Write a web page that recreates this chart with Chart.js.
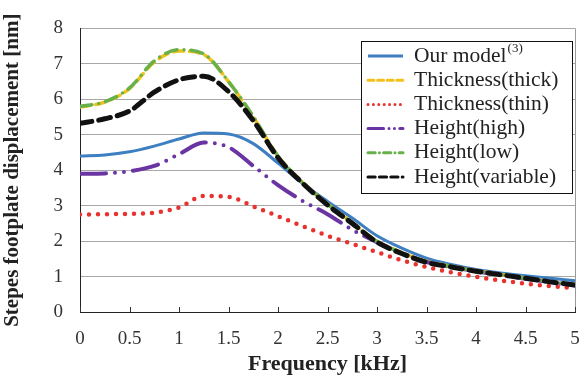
<!DOCTYPE html>
<html>
<head>
<meta charset="utf-8">
<script src="https://cdn.jsdelivr.net/npm/chart.js@4"></script>
<style>
  html, body { margin: 0; padding: 0; background: #fff; }
</style>
</head>
<body>
<canvas id="grafico" width="580" height="380"></canvas>
<script>
// frequencia em kHz
const frequencias = [0, 0.25, 0.5, 0.75, 1, 1.25, 1.5, 1.75, 2, 2.25, 2.5, 2.75, 3, 3.25, 3.5, 3.75, 4, 4.25, 4.5, 4.75, 5];

const ourModel = [4.40, 4.43, 4.52, 4.68, 4.88, 5.05, 5.02, 4.75, 4.20, 3.62, 3.12, 2.65, 2.15, 1.80, 1.52, 1.34, 1.20, 1.10, 1.02, 0.95, 0.88];
const thick    = [5.78, 5.92, 6.30, 7.05, 7.36, 7.26, 6.50, 5.50, 4.40, 3.65, 3.05, 2.52, 2.00, 1.68, 1.43, 1.29, 1.17, 1.06, 0.96, 0.86, 0.77];
const thin     = [2.75, 2.76, 2.77, 2.80, 2.95, 3.27, 3.25, 2.98, 2.70, 2.42, 2.15, 1.92, 1.69, 1.46, 1.27, 1.12, 0.99, 0.89, 0.80, 0.73, 0.67];
const high     = [3.90, 3.91, 3.97, 4.12, 4.45, 4.78, 4.65, 4.12, 3.58, 3.13, 2.76, 2.32, 1.97, 1.66, 1.41, 1.27, 1.15, 1.04, 0.94, 0.84, 0.75];
const low      = [5.80, 5.93, 6.32, 7.08, 7.40, 7.28, 6.50, 5.52, 4.40, 3.64, 3.04, 2.51, 1.99, 1.67, 1.42, 1.28, 1.16, 1.05, 0.95, 0.85, 0.76];
const variable = [5.32, 5.45, 5.67, 6.20, 6.55, 6.65, 6.22, 5.40, 4.35, 3.63, 3.02, 2.50, 1.97, 1.65, 1.40, 1.27, 1.15, 1.05, 0.95, 0.85, 0.76];

const nomesSeries = ["Our model", "Thickness(thick)", "Thickness(thin)", "Height(high)", "Height(low)", "Height(variable)"];

const fonte = "'Liberation Serif', 'Times New Roman', serif";

function pontos(valores) {
  return frequencias.map((f, i) => ({ x: f, y: valores[i] }));
}

function serie(nome, valores, cor, largura, tracejado, ordem) {
  return {
    label: nome,
    data: pontos(valores),
    borderColor: cor,
    backgroundColor: cor,
    borderWidth: largura,
    borderDash: tracejado,
    borderCapStyle: tracejado.length ? "round" : "butt",
    pointRadius: 0,
    cubicInterpolationMode: "monotone",
    fill: false,
    order: ordem
  };
}

// moldura direita + marcas do eixo x para dentro
const moldura = {
  id: "moldura",
  beforeDatasetsDraw(chart) {
    const { ctx, chartArea: a, scales: { x } } = chart;
    ctx.save();
    ctx.lineWidth = 1;
    ctx.strokeStyle = "#9a9a9a";
    ctx.beginPath();
    ctx.moveTo(Math.round(a.right) + 0.5, a.top);
    ctx.lineTo(Math.round(a.right) + 0.5, a.bottom);
    ctx.stroke();
    ctx.strokeStyle = "#333";
    x.ticks.forEach(t => {
      const px = Math.round(x.getPixelForValue(t.value)) + 0.5;
      ctx.beginPath();
      ctx.moveTo(px, a.bottom);
      ctx.lineTo(px, a.bottom - 5);
      ctx.stroke();
    });
    ctx.restore();
  }
};

// legenda desenhada dentro da area do grafico
const legendaInterna = {
  id: "legendaInterna",
  afterDraw(chart) {
    const ctx = chart.ctx;
    const bx = 361, by = 41, bw = 211, bh = 152;
    const passo = 24.2;
    ctx.save();
    ctx.fillStyle = "#fff";
    ctx.fillRect(bx, by, bw, bh);
    ctx.strokeStyle = "#111";
    ctx.lineWidth = 1;
    ctx.strokeRect(bx + 0.5, by + 0.5, bw, bh);

    chart.data.datasets.forEach((ds, i) => {
      const yy = by + 15 + i * passo;
      ctx.save();
      ctx.strokeStyle = ds.borderColor;
      ctx.lineWidth = Math.min(ds.borderWidth, 3);
      ctx.lineCap = ds.borderCapStyle;
      ctx.setLineDash(ds.borderDash.map(v => v * 0.6));
      ctx.beginPath();
      ctx.moveTo(368, yy);
      ctx.lineTo(403, yy);
      ctx.stroke();
      ctx.restore();

      ctx.fillStyle = "#222";
      ctx.font = "21.5px " + fonte;
      ctx.textBaseline = "middle";
      ctx.textAlign = "left";
      ctx.fillText(ds.label, 414, yy);
      if (i === 0) {
        const w = ctx.measureText(ds.label).width;
        ctx.font = "13px " + fonte;
        ctx.fillText("(3)", 414 + w + 1, yy - 7);
      }
    });
    ctx.restore();
  }
};

new Chart(document.getElementById("grafico").getContext("2d"), {
  type: "line",
  data: {
    datasets: [
      serie(nomesSeries[0], ourModel, "#3d7fc1", 3, [], 4),
      serie(nomesSeries[1], thick, "#f2c21b", 3.5, [10, 6], 3),
      serie(nomesSeries[2], thin, "#e8322e", 4.5, [0, 9], 5),
      serie(nomesSeries[3], high, "#6a35a3", 4, [26, 9, 0, 9, 0, 9], 2),
      serie(nomesSeries[4], low, "#68b14a", 3.5, [12, 7, 0, 7], 1),
      serie(nomesSeries[5], variable, "#111111", 5, [12, 7], 0)
    ]
  },
  options: {
    responsive: false,
    animation: false,
    layout: { padding: { top: 27, right: 4, left: 0, bottom: 0 } },
    plugins: {
      legend: { display: false },
      tooltip: { enabled: false }
    },
    scales: {
      x: {
        type: "linear",
        min: 0,
        max: 5,
        afterFit: s => { s.height = 68; s.paddingRight = 5; },
        ticks: {
          stepSize: 0.5,
          padding: 8,
          color: "#333",
          font: { family: fonte, size: 19 },
          callback: v => String(Math.round(v * 10) / 10)
        },
        grid: { display: false },
        border: { display: true, color: "#222", width: 1 },
        title: {
          display: true,
          text: "Frequency [kHz]",
          color: "#222",
          font: { family: fonte, size: 22, weight: "bold" },
          padding: { top: 0, bottom: 2 }
        }
      },
      y: {
        min: 0,
        max: 8,
        afterFit: s => { s.width = 80; },
        ticks: {
          stepSize: 1,
          padding: 17,
          color: "#333",
          font: { family: fonte, size: 19 }
        },
        grid: { color: "#a8a8a8", lineWidth: 1, drawTicks: false },
        border: { display: true, color: "#222", width: 1 },
        title: {
          display: true,
          text: "Stepes footplate displacement [nm]",
          color: "#222",
          font: { family: fonte, size: 21, weight: "bold" },
          padding: { top: 0, bottom: 0 }
        }
      }
    }
  },
  plugins: [moldura, legendaInterna]
});
</script>
</body>
</html>
